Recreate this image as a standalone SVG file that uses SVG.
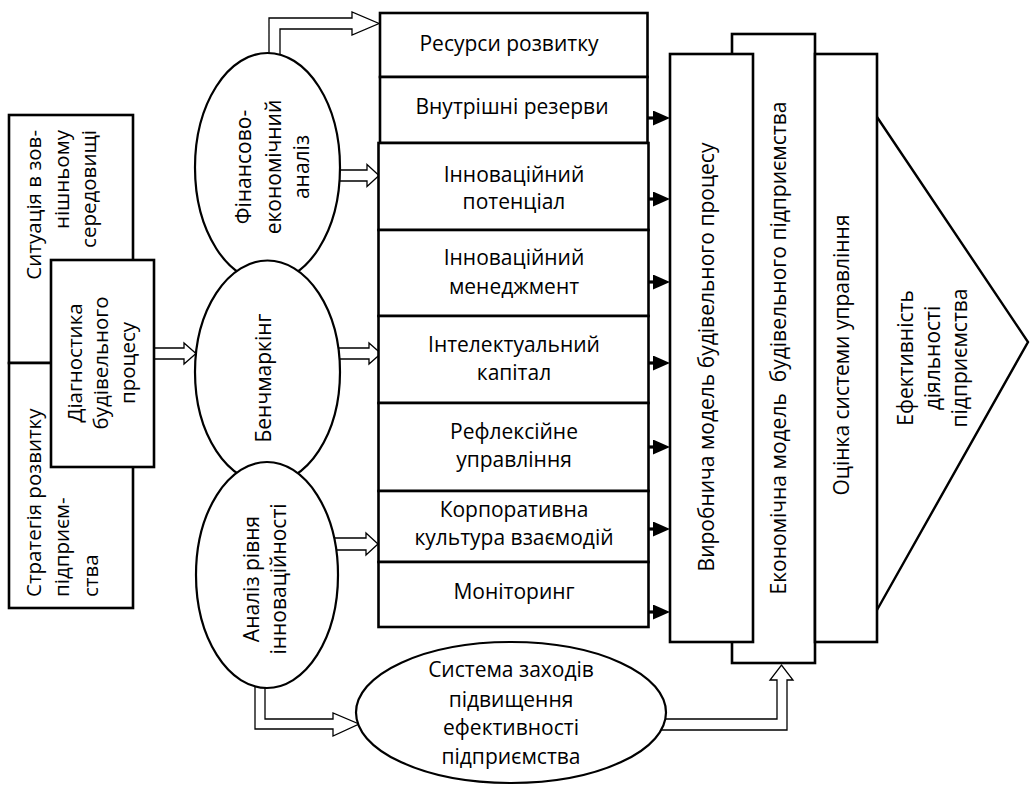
<svg xmlns="http://www.w3.org/2000/svg" width="1030" height="785" viewBox="0 0 1030 785">
<style>
.box{fill:#fff;stroke:#000;stroke-width:2.6}
.ell{fill:#fff;stroke:#000;stroke-width:2.2}
.hol{fill:#fff;stroke:#000;stroke-width:1.3;stroke-linejoin:miter}
.fil{stroke:#000;stroke-width:3.2;fill:none}
.tri{fill:none;stroke:#000;stroke-width:2.4}
text{font-family:"Open Sans","Noto Sans","DejaVu Sans",sans-serif;font-size:21px;fill:#000}
.m{text-anchor:middle}
.l{font-size:20.5px}
</style>
<defs>
<marker id="ah" markerUnits="userSpaceOnUse" markerWidth="18" markerHeight="16" refX="2" refY="7.5" orient="auto">
<path d="M0,0 L17,7.5 L0,15 z" fill="#000"/>
</marker>
</defs>

<g id="connectors">
<path class="hol" d="M269,58 V18 H352 V12 L379,23.5 L352,35 V29 H280 V58"/>
<path class="hol" d="M334,170 H367 V164.5 L379,175.5 L367,186.5 V181 H334"/>
<path class="hol" d="M154,348 H184 V343 L196,353.5 L184,364 V359 H154"/>
<path class="hol" d="M334,348 H369 V343 L381,353.5 L369,364 V359 H334"/>
<path class="hol" d="M332,538 H366 V533 L378,544 L366,555 V550 H332"/>
<path class="hol" d="M255,682 V729 H333 V736 L359,724 L333,713 V719 H265 V682"/>
<path class="hol" d="M656,719 H777 V680 H770 L781.5,665 L793,680 H787 V730 H656"/>
<line class="fil" x1="648" y1="118" x2="655" y2="118" marker-end="url(#ah)"/>
<line class="fil" x1="648" y1="199" x2="655" y2="199" marker-end="url(#ah)"/>
<line class="fil" x1="648" y1="282" x2="655" y2="282" marker-end="url(#ah)"/>
<line class="fil" x1="648" y1="363" x2="655" y2="363" marker-end="url(#ah)"/>
<line class="fil" x1="648" y1="447" x2="655" y2="447" marker-end="url(#ah)"/>
<line class="fil" x1="648" y1="529" x2="655" y2="529" marker-end="url(#ah)"/>
<line class="fil" x1="648" y1="612" x2="655" y2="612" marker-end="url(#ah)"/>
</g>

<g id="situation">
<rect class="box" x="9" y="115" width="124" height="248"/>
<text class="l" text-anchor="end" transform="translate(41,130) rotate(-90)">Ситуація в зов-</text>
<text class="l" text-anchor="end" transform="translate(68.5,130) rotate(-90)">нішньому</text>
<text class="l" text-anchor="end" transform="translate(96,130) rotate(-90)">середовищі</text>
</g>
<g id="strategy">
<rect class="box" x="9" y="363" width="124" height="245"/>
<text class="l" transform="translate(41,597) rotate(-90)">Стратегія розвитку</text>
<text class="l" transform="translate(69,597) rotate(-90)">підприєм-</text>
<text class="l" transform="translate(98,597) rotate(-90)">ства</text>
</g>
<g id="diagnostics">
<rect class="box" x="51" y="260" width="103" height="207"/>
<text class="l m" transform="translate(82,363) rotate(-90)">Діагностика</text>
<text class="l m" transform="translate(108,363) rotate(-90)">будівельного</text>
<text class="l m" transform="translate(135,363) rotate(-90)">процесу</text>
</g>

<g id="fin-analysis">
<ellipse class="ell" cx="267.5" cy="167.5" rx="72.5" ry="114.5"/>
<text class="m" transform="translate(251,167) rotate(-90)">Фінансово-</text>
<text class="m" transform="translate(281,167) rotate(-90)">економічний</text>
<text class="m" transform="translate(309,167) rotate(-90)">аналіз</text>
</g>
<g id="benchmarking">
<ellipse class="ell" cx="267.5" cy="372" rx="72.5" ry="111.5"/>
<text class="m" transform="translate(271,378) rotate(-90)">Бенчмаркінг</text>
</g>
<g id="innov-analysis">
<ellipse class="ell" cx="267" cy="575" rx="71" ry="113"/>
<text class="m" transform="translate(259,579) rotate(-90)">Аналіз рівня</text>
<text class="m" transform="translate(286,579) rotate(-90)">інноваційності</text>
</g>

<g id="resources">
<rect class="box" x="380" y="13" width="267.5" height="64"/>
<text class="m" x="509" y="51">Ресурси розвитку</text>
</g>
<g id="reserves">
<rect class="box" x="380" y="77" width="267.5" height="66"/>
<text class="m" x="512" y="114">Внутрішні резерви</text>
</g>
<g id="innov-potential">
<rect class="box" x="378.5" y="143" width="270" height="87"/>
<text class="m" x="514" y="182">Інноваційний</text>
<text class="m" x="514" y="209">потенціал</text>
</g>
<g id="innov-management">
<rect class="box" x="378.5" y="230" width="270" height="86"/>
<text class="m" x="514" y="265">Інноваційний</text>
<text class="m" x="514" y="294">менеджмент</text>
</g>
<g id="intellectual-capital">
<rect class="box" x="378.5" y="316" width="270" height="87"/>
<text class="m" x="514" y="352">Інтелектуальний</text>
<text class="m" x="514" y="380">капітал</text>
</g>
<g id="reflexive">
<rect class="box" x="378.5" y="403" width="270" height="88"/>
<text class="m" x="514" y="439">Рефлексійне</text>
<text class="m" x="514" y="467">управління</text>
</g>
<g id="corporate-culture">
<rect class="box" x="378.5" y="491" width="270" height="71"/>
<text class="m" x="514" y="517">Корпоративна</text>
<text class="m" x="514" y="545">культура взаємодій</text>
</g>
<g id="monitoring">
<rect class="box" x="378.5" y="562" width="270" height="65"/>
<text class="m" x="514" y="599">Моніторинг</text>
</g>

<g id="economic-model">
<rect class="box" x="732" y="34" width="83" height="629"/>
<text class="m" style="white-space:pre" transform="translate(786,348) rotate(-90)">Економічна модель  будівельного підприємства</text>
</g>
<g id="production-model">
<rect class="box" x="670" y="54" width="83" height="588"/>
<text class="m" transform="translate(714,357) rotate(-90)">Виробнича модель будівельного процесу</text>
</g>
<g id="management-assessment">
<rect class="box" x="815" y="54" width="62" height="588"/>
<text class="m" transform="translate(849,355) rotate(-90)">Оцінка системи управління</text>
</g>
<g id="efficiency">
<polyline class="tri" points="877,117 1028,342 877,610"/>
<text class="m" font-size="20" transform="translate(913,358) rotate(-90)">Ефективність</text>
<text class="m" font-size="20" transform="translate(940,358) rotate(-90)">діяльності</text>
<text class="m" font-size="20" transform="translate(967,358) rotate(-90)">підприємства</text>
</g>

<g id="measures">
<ellipse class="ell" cx="511" cy="712.5" rx="155" ry="70.5"/>
<text class="m" x="511" y="677">Система заходів</text>
<text class="m" x="511" y="707">підвищення</text>
<text class="m" x="511" y="735">ефективності</text>
<text class="m" x="511" y="764">підприємства</text>
</g>
</svg>
